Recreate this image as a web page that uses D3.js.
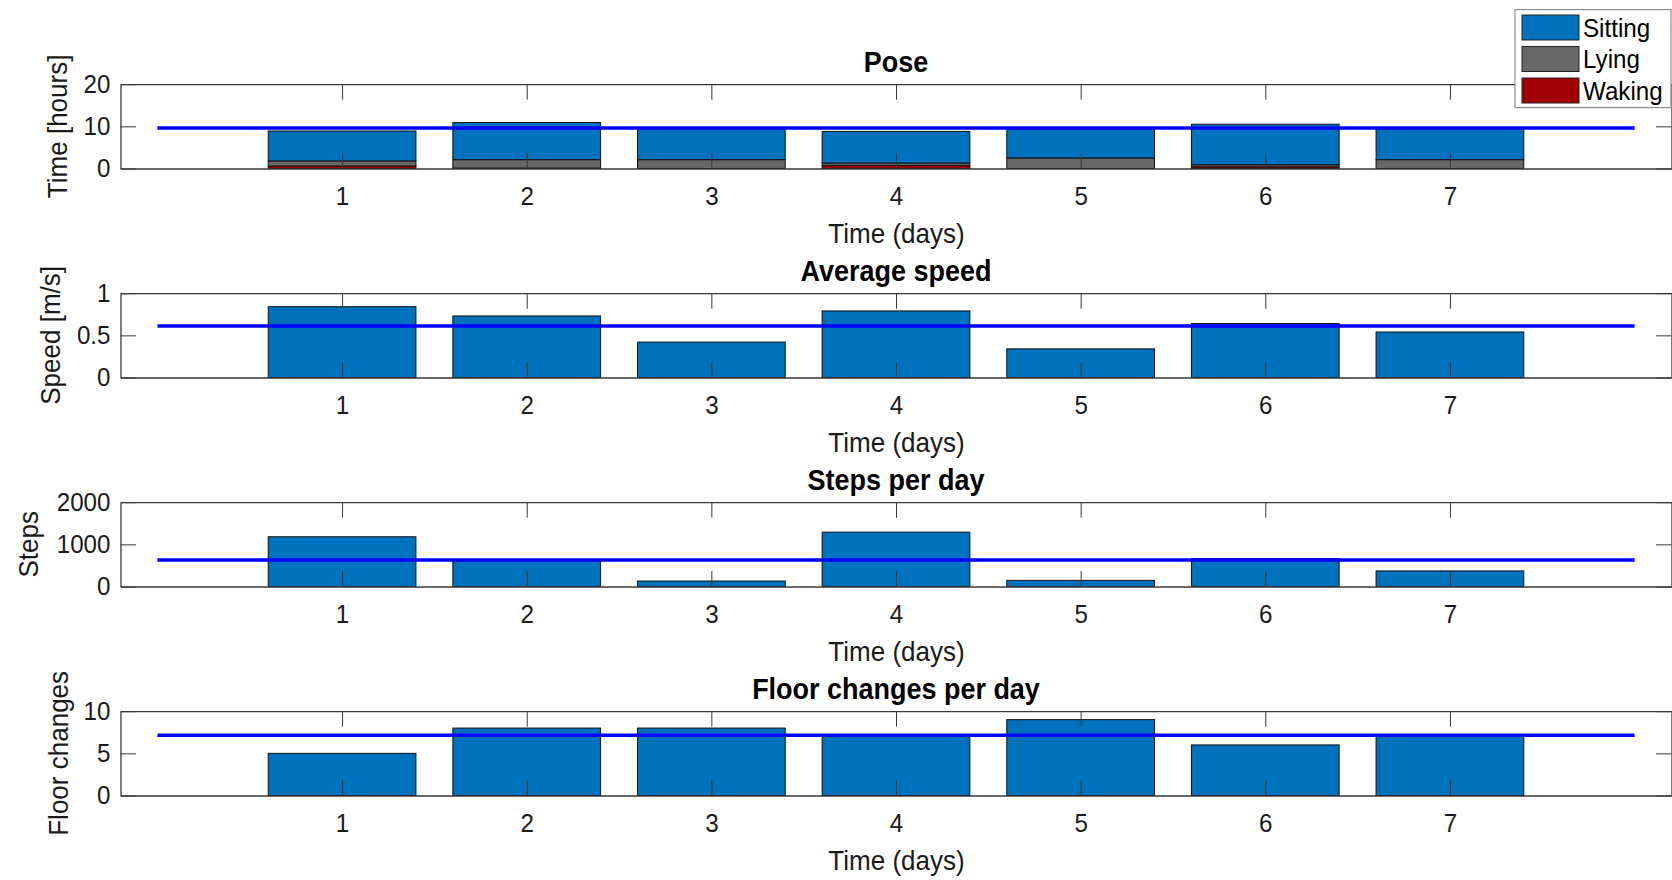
<!DOCTYPE html>
<html>
<head>
<meta charset="utf-8">
<script src="https://cdn.jsdelivr.net/npm/d3@7"></script>
<style>
  html, body { margin: 0; padding: 0; background: #ffffff; }
  svg { display: block; }
</style>
</head>
<body>
<svg id="chart" width="1672" height="880"></svg>
<script>
// ---- data -----------------------------------------------------------
const days = [1, 2, 3, 4, 5, 6, 7];

// Pose (hours per day), stacked bottom -> top: waking, lying, sitting
const sitting = [7.1, 8.8, 7.3, 7.5, 6.8, 9.6, 7.3];
const lying   = [1.2, 2.0, 2.1, 0.6, 2.5, 0.5, 2.1];
const waking  = [0.6, 0.1, 0.0, 0.7, 0.0, 0.4, 0.0];

const speed  = [0.84, 0.73, 0.42, 0.79, 0.34, 0.64, 0.54];  // m/s
const steps  = [1180, 630, 130, 1290, 145, 660, 370];
const floors = [5, 8, 8, 7, 9, 6, 7];

// weekly average levels drawn as horizontal reference lines
const averageLevels = [9.6, 0.61, 630, 7.14];

const poseTicks  = [0, 10, 20];
const speedTicks = [0, 0.5, 1];
const stepTicks  = [0, 1000, 2000];
const floorTicks = [0, 5, 10];

const poseKeys   = ["waking", "lying", "sitting"];
const legendKeys = ["sitting", "lying", "waking"];
const legendNames = { sitting: "Sitting", lying: "Lying", waking: "Waking" };

// ---- styling ----------------------------------------------------------
const colors = { sitting: "#0072bd", lying: "#676767", waking: "#a00000" };
const FONT = "'Liberation Sans', Arial, Helvetica, sans-serif";
const SQUEEZE = 0.93;          // slightly condensed lettering
const AXIS_COLOR = "#383838";
const TICK_LEN = 15.5;
const TICK_FONT = 26;

const svg = d3.select("#chart");

const left = 120.5, right = 1671.5, plotH = 84.3;
const x = d3.scaleLinear().domain([-0.2, 8.2]).range([left, right]);
const barW = x(0.8) - x(0);

const panels = [
  { title: "Pose", ylabel: "Time [hours]", domain: [0, 20], ticks: poseTicks, top: 84.2, labelX: 67, fmt: d3.format("d") },
  { title: "Average speed", ylabel: "Speed [m/s]", domain: [0, 1], ticks: speedTicks, top: 293.2, labelX: 60, fmt: d => String(d) },
  { title: "Steps per day", ylabel: "Steps", domain: [0, 2000], ticks: stepTicks, top: 502.2, labelX: 38, fmt: d3.format("d") },
  { title: "Floor changes per day", ylabel: "Floor changes", domain: [0, 10], ticks: floorTicks, top: 711.2, labelX: 68, fmt: d3.format("d") }
];
const singleSeries = [null, speed, steps, floors];

function label(g, px, py, str, size, opts = {}) {
  const rot = opts.rotate ? ` rotate(${opts.rotate})` : "";
  return g.append("text")
    .attr("transform", `translate(${px},${py})${rot} scale(${SQUEEZE},1)`)
    .attr("text-anchor", opts.anchor || "middle")
    .attr("font-family", FONT)
    .attr("font-size", size)
    .attr("font-weight", opts.bold ? "bold" : "normal")
    .attr("fill", opts.fill || "#1a1a1a")
    .text(str);
}

panels.forEach((p, i) => {
  const bottom = p.top + plotH;
  const y = d3.scaleLinear().domain(p.domain).range([bottom, p.top]);
  const g = svg.append("g");

  // bars
  if (i === 0) {
    const rows = days.map((d, k) => ({ day: d, sitting: sitting[k], lying: lying[k], waking: waking[k] }));
    const stacked = d3.stack().keys(poseKeys)(rows);
    stacked.forEach(layer => {
      g.append("g").selectAll("rect").data(layer).join("rect")
        .attr("x", d => x(d.data.day) - barW / 2)
        .attr("y", d => y(d[1]))
        .attr("width", barW)
        .attr("height", d => y(d[0]) - y(d[1]))
        .attr("fill", colors[layer.key])
        .attr("stroke", "#111")
        .attr("stroke-width", 1);
    });
  } else {
    const vals = singleSeries[i];
    g.append("g").selectAll("rect").data(days).join("rect")
      .attr("x", d => x(d) - barW / 2)
      .attr("y", (d, k) => y(vals[k]))
      .attr("width", barW)
      .attr("height", (d, k) => y(0) - y(vals[k]))
      .attr("fill", colors.sitting)
      .attr("stroke", "#111")
      .attr("stroke-width", 1);
  }

  // average line
  g.append("line")
    .attr("x1", x(0)).attr("x2", x(8))
    .attr("y1", y(averageLevels[i])).attr("y2", y(averageLevels[i]))
    .attr("stroke", "#0000ff")
    .attr("stroke-width", 3.5);

  // axes: ticks point inward on all four sides (boxed axes)
  const axB = d3.axisBottom(x).tickValues(days).tickSize(-TICK_LEN).tickSizeOuter(0).tickPadding(18.5);
  const axT = d3.axisTop(x).tickValues(days).tickSize(-TICK_LEN).tickSizeOuter(0).tickFormat("");
  const axL = d3.axisLeft(y).tickValues(p.ticks).tickSize(-TICK_LEN).tickSizeOuter(0).tickPadding(10).tickFormat(p.fmt);
  const axR = d3.axisRight(y).tickValues(p.ticks).tickSize(-TICK_LEN).tickSizeOuter(0).tickFormat("");

  const gb = g.append("g").attr("transform", `translate(0,${bottom})`).call(axB);
  const gt = g.append("g").attr("transform", `translate(0,${p.top})`).call(axT);
  const gl = g.append("g").attr("transform", `translate(${left},0)`).call(axL);
  const gr = g.append("g").attr("transform", `translate(${right},0)`).call(axR);

  [gb, gt, gl, gr].forEach(a => {
    a.attr("color", AXIS_COLOR).attr("font-family", FONT).attr("font-size", TICK_FONT);
    a.select(".domain").attr("stroke-width", 1.3);
    a.selectAll(".tick line").attr("stroke-width", 1);
    a.selectAll(".tick text").attr("fill", "#1a1a1a");
  });
  gb.selectAll(".tick text").attr("transform", `scale(${SQUEEZE},1)`);
  gl.selectAll(".tick text").each(function () {
    const t = d3.select(this);
    t.attr("transform", `translate(${t.attr("x")},0) scale(${SQUEEZE},1)`).attr("x", 0);
  });

  // titles and axis labels
  label(g, (left + right) / 2, p.top - 12, p.title, 29, { bold: true, fill: "#000" });
  label(g, x(4) + 0.5, bottom + 74.5, "Time (days)", 28);
  label(g, p.labelX, p.top + plotH / 2, p.ylabel, 28, { rotate: -90 });
});

// legend, drawn over the top-right corner of the first panel
const lg = svg.append("g");
lg.append("rect")
  .attr("x", 1515).attr("y", 9.6).attr("width", 156).attr("height", 98)
  .attr("fill", "#ffffff").attr("stroke", "#8c8c8c").attr("stroke-width", 1.2);
legendKeys.forEach((k, i) => {
  const cy = 27.5 + i * 31.5;
  lg.append("rect")
    .attr("x", 1522).attr("y", cy - 12.5).attr("width", 57).attr("height", 25)
    .attr("fill", colors[k]).attr("stroke", "#222").attr("stroke-width", 1);
  label(lg, 1583, cy + 9, legendNames[k], 26, { anchor: "start", fill: "#000" });
});
</script>
</body>
</html>
